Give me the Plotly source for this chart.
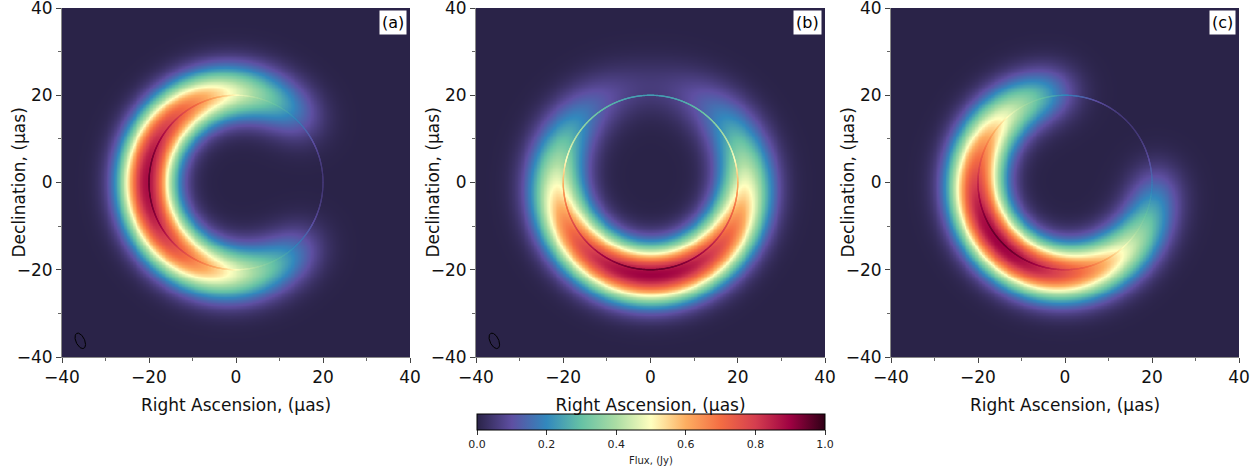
import numpy as np
import plotly.graph_objects as go

# ---------------- data ----------------
panel_labels = ["(a)", "(b)", "(c)"]
ring_cx = [0.0, 0.0, 0.0]          # ring centre RA (uas)
ring_cy = [0.0, 0.5, 0.0]          # ring centre Dec (uas)
ring_radius = [21.0, 22.0, 21.0]   # ring radius (uas)
peak_angle = [180.0, 270.0, 222.0] # direction of brightest part (deg)
asymmetry = [0.9, 0.9, 0.9]        # brightness contrast around ring
gap_angle = [0.0, 0.0, 48.0]       # direction of missing arc (deg)
gap_half = [38.0, 0.0, 42.0]       # half-width of missing arc (deg)
blur_sigma = [4.3, 4.4, 4.3]       # radial blur (uas)
peak_flux = [0.88, 0.9, 0.9]       # max flux (Jy)
circle_radius = 20.0               # thin reference circle (uas)
circle_asym = [0.9, 0.6, 0.9]      # brightness contrast of the thin circle
circle_peak = [0.95, 0.95, 0.95]   # max flux of the thin circle
beam_center = [-35.8, -36.3]
beam_axes = [1.9, 1.0]             # semi-major, semi-minor (uas)
beam_tilt = 25.0                   # deg from vertical, towards left
beam_panels = [0, 1]
axis_ticks = [-40, -20, 0, 20, 40]
cbar_ticks = [0.0, 0.2, 0.4, 0.6, 0.8, 1.0]

colorscale = [
    [0.0, "#2a2348"], [0.1, "#5e4fa2"], [0.2, "#3288bd"], [0.3, "#66c2a5"],
    [0.4, "#abdda4"], [0.5, "#ffffbf"], [0.6, "#fdae61"], [0.7, "#f46d43"],
    [0.8, "#d53e4f"], [0.9, "#9e0142"], [1.0, "#2e0016"],
]

grid = np.linspace(-40, 40, 241)


def gap_dist(theta, i):
    return np.abs((np.rad2deg(theta) - gap_angle[i] + 180) % 360 - 180)


def ring_brightness(theta, i, asym, with_gap=True):
    psi = theta - np.deg2rad(peak_angle[i])
    b = (1 + asym * np.cos(psi)) / (1 + asym)
    if with_gap and gap_half[i] > 0:
        b = b * (gap_dist(theta, i) > gap_half[i])
    return b


def ring_image(i):
    th = np.deg2rad(np.arange(0, 360, 0.5))
    b = ring_brightness(th, i, asymmetry[i])
    px = ring_cx[i] + ring_radius[i] * np.cos(th)
    py = ring_cy[i] + ring_radius[i] * np.sin(th)
    s = blur_sigma[i]
    gx = np.exp(-((grid[None, :] - px[:, None]) ** 2) / (2 * s * s))
    gy = np.exp(-((grid[None, :] - py[:, None]) ** 2) / (2 * s * s))
    img = (gy.T * b) @ gx
    return img / img.max() * peak_flux[i]


domains_x = [[62 / 1260, 410 / 1260], [476 / 1260, 825 / 1260], [891 / 1260, 1239 / 1260]]
domain_y = [(467 - 357) / 467, (467 - 8) / 467]

fig = go.Figure()
font_family = "DejaVu Sans"
fs = 17

for i in range(3):
    xa = "x" if i == 0 else f"x{i+1}"
    ya = "y" if i == 0 else f"y{i+1}"
    fig.add_trace(go.Heatmap(x=grid, y=grid, z=ring_image(i), coloraxis="coloraxis",
                             zsmooth="best", xaxis=xa, yaxis=ya, hoverinfo="skip"))
    # thin reference circle coloured by model brightness
    th = np.deg2rad(np.linspace(0, 360, 1441))
    cvals = np.clip(ring_brightness(th, i, circle_asym[i], with_gap=False) * circle_peak[i], 0, 1)
    fig.add_trace(go.Scatter(
        x=circle_radius * np.cos(th), y=circle_radius * np.sin(th), mode="markers",
        marker=dict(size=1.4, color=cvals, opacity=0.9,
                    coloraxis="coloraxis", line=dict(width=0)),
        xaxis=xa, yaxis=ya, showlegend=False, hoverinfo="skip"))
    if i in beam_panels:
        t = np.linspace(0, 2 * np.pi, 100)
        a, b = beam_axes
        phi = np.deg2rad(90 + beam_tilt)
        ex = beam_center[0] + a * np.cos(t) * np.cos(phi) - b * np.sin(t) * np.sin(phi)
        ey = beam_center[1] + a * np.cos(t) * np.sin(phi) + b * np.sin(t) * np.cos(phi)
        fig.add_trace(go.Scatter(x=ex, y=ey, mode="lines", line=dict(color="black", width=1),
                                 xaxis=xa, yaxis=ya, showlegend=False, hoverinfo="skip"))

    axis_common = dict(range=[-40, 40], tickvals=axis_ticks, ticks="outside", ticklen=5,
                       tickcolor="#444", showline=True, linecolor="#888", linewidth=1,
                       showgrid=False, zeroline=False, automargin=False,
                       ticklabeloverflow="allow",
                       tickfont=dict(family=font_family, size=fs, color="#111"),
                       minor=dict(dtick=10, tick0=-40, ticks="outside", ticklen=3,
                                  tickcolor="#666", showgrid=False))
    fig.layout[("xaxis" if i == 0 else f"xaxis{i+1}")] = dict(
        axis_common, domain=domains_x[i], anchor=ya,
        title=dict(text="Right Ascension, (\u00b5as)", standoff=12,
                   font=dict(family=font_family, size=fs, color="#111")))
    fig.layout[("yaxis" if i == 0 else f"yaxis{i+1}")] = dict(
        axis_common, domain=domain_y, anchor=xa)
    fig.add_annotation(text="Declination, (\u00b5as)", xref=f"{xa} domain", yref=f"{ya} domain",
                       x=0, y=0.5, xshift=-44, textangle=-90, xanchor="center",
                       yanchor="middle", showarrow=False,
                       font=dict(family=font_family, size=fs, color="#111"))
    fig.add_annotation(text=panel_labels[i], xref=f"{xa} domain", yref=f"{ya} domain",
                       x=0.992, y=0.994, xanchor="right", yanchor="top", showarrow=False,
                       bgcolor="white", borderpad=2,
                       font=dict(family=font_family, size=16, color="black"))

fig.add_annotation(text="Flux, (Jy)", xref="paper", yref="paper",
                   x=(477 + 825) / 2 / 1260, y=(467 - 460) / 467, xanchor="center",
                   yanchor="middle", showarrow=False,
                   font=dict(family=font_family, size=10, color="#222"))

fig.update_layout(
    width=1260, height=467, margin=dict(l=0, r=0, t=0, b=0),
    paper_bgcolor="white", plot_bgcolor="white", showlegend=False,
    coloraxis=dict(
        colorscale=colorscale, cmin=0, cmax=1,
        colorbar=dict(orientation="h", x=(477 + 825) / 2 / 1260, xanchor="center",
                      y=(467 - 414) / 467, yanchor="top", len=348 / 1260, lenmode="fraction",
                      thickness=16, xpad=0, ypad=0, outlinecolor="black", outlinewidth=1,
                      ticks="outside", ticklen=5, tickcolor="#333", tickvals=cbar_ticks,
                      ticktext=[f"{v:.1f}" for v in cbar_ticks],
                      tickfont=dict(family=font_family, size=11, color="#222")),
    ),
)

fig.write_html("out.html")
